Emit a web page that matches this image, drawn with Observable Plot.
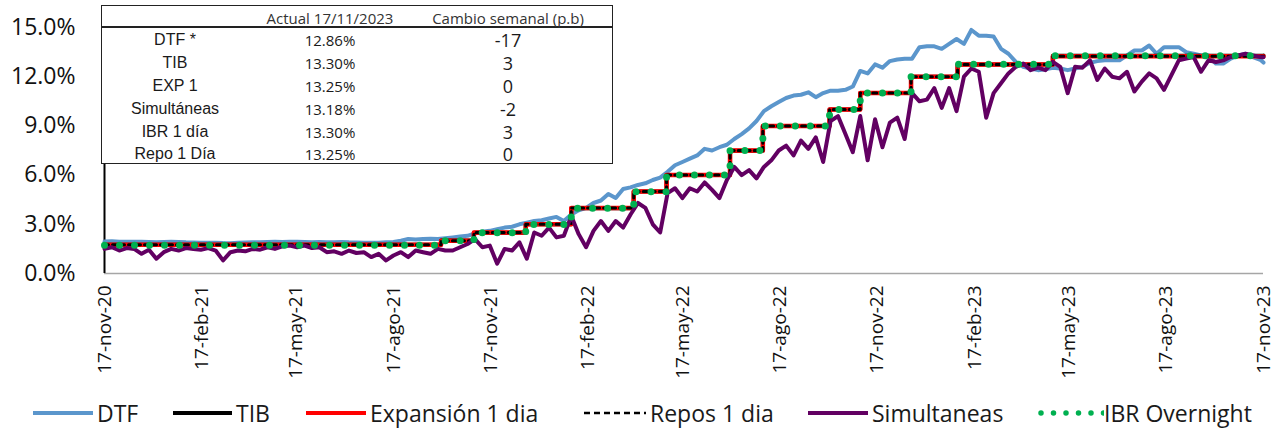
<!DOCTYPE html>
<html>
<head>
<meta charset="utf-8">
<script src="https://cdn.jsdelivr.net/npm/d3@7"></script>
<script src="https://cdn.jsdelivr.net/npm/@observablehq/plot@0.6"></script>
<style>
  html, body { margin: 0; padding: 0; background: #fff; }
  #wrap { position: relative; width: 1281px; height: 429px; overflow: hidden; font-family: "Open Sans", sans-serif; }
  #chart svg { display: block; }
  #tbl { position: absolute; left: 101px; top: 5px; width: 512px; height: 159px; border: 1.5px solid #222; background: #fff; box-sizing: border-box; }
  #tbl .hline { position: absolute; left: 0; right: 0; top: 20px; border-top: 2px solid #222; }
  #tbl .c { position: absolute; transform: translate(-50%, -50%); white-space: nowrap; color: #1a1a1a; }
  #tbl .hd { font-size: 15px; color: #333; }
  #tbl .lb { font-family: "Liberation Sans", Arial, sans-serif; font-size: 16px; }
  #tbl .va { font-size: 15px; }
  #tbl .ch { font-size: 18px; }
  #legend { position: relative; height: 31px; width: 1281px; }
  #legend .tx { position: absolute; top: 15px; transform: translateY(-50%); font-size: 23px; color: #1a1a1a; white-space: nowrap; }
  #legend svg { position: absolute; top: 10px; }
</style>
</head>
<body>
<div id="wrap">
  <div id="chart"></div>
  <div id="tbl"></div>
  <div id="legend"></div>
</div>
<script>
// ---------- DATA ----------
const startDate = "2020-11-17";
const endDate = "2023-11-17";

// Weekly DTF (%), from 17-nov-20, last value = 17-nov-23
const dtfValues = [
  1.95,1.96,1.94,1.93,1.94,1.93,1.92,1.91,1.92,1.93,
  1.92,1.90,1.89,1.88,1.87,1.88,1.86,1.85,1.87,1.89,
  1.90,1.91,1.92,1.93,1.92,1.94,1.93,1.92,1.91,1.92,
  1.90,1.91,1.92,1.90,1.89,1.88,1.87,1.88,1.90,1.92,
  2.00,2.10,2.08,2.10,2.12,2.10,2.15,2.20,2.25,2.30,
  2.45,2.55,2.60,2.70,2.80,2.85,3.00,3.10,3.20,3.25,
  3.35,3.45,3.20,3.60,3.85,4.00,4.30,4.45,4.85,4.60,
  5.15,5.25,5.40,5.50,5.70,5.85,6.20,6.60,6.80,7.00,
  7.20,7.60,7.50,7.70,7.85,8.20,8.50,8.85,9.30,9.90,
  10.20,10.45,10.70,10.85,10.90,11.05,10.75,11.00,11.15,11.15,
  11.20,11.40,12.35,12.20,12.75,12.55,12.95,13.05,13.10,13.10,
  13.80,13.85,13.85,13.70,14.00,14.30,14.00,14.85,14.50,14.50,
  14.45,13.70,13.40,12.90,12.60,12.50,12.40,12.45,12.55,12.50,
  12.40,12.50,12.60,12.85,12.95,13.00,13.00,13.00,13.30,13.60,
  13.60,13.90,13.40,13.80,13.80,13.80,13.50,13.40,13.30,13.30,
  12.80,12.80,13.10,13.30,13.40,13.20,13.03,
  12.86
];

// Weekly Simultáneas (%)
const simValues = [
  1.5,1.6,1.4,1.55,1.5,1.2,1.45,0.9,1.3,1.5,
  1.4,1.55,1.5,1.45,1.55,1.4,0.8,1.3,1.4,1.35,
  1.5,1.45,1.6,1.5,1.65,1.7,1.6,1.7,1.55,1.6,
  1.3,1.35,1.2,1.4,1.25,1.3,1.0,1.2,0.8,1.1,
  1.3,1.0,1.4,1.3,1.2,1.5,1.4,1.4,1.6,1.8,
  2.1,1.6,1.7,0.6,1.5,1.4,1.9,0.9,2.5,2.3,
  2.8,2.2,2.3,3.5,2.4,1.6,2.6,3.2,2.6,3.2,
  2.8,3.6,4.3,4.0,3.0,2.5,4.9,5.2,4.6,5.2,
  5.0,5.55,5.1,4.6,5.7,6.5,6.0,6.3,5.8,6.5,
  6.9,7.5,7.8,7.2,8.1,7.6,8.3,6.8,9.3,9.6,
  8.5,7.4,9.6,6.9,9.4,7.7,9.2,9.5,8.2,11.0,
  10.5,10.6,11.3,10.1,11.3,9.9,12.0,12.5,12.3,9.5,
  11.0,11.6,12.2,12.6,12.8,12.4,12.55,12.4,12.9,12.6,
  11.0,12.6,12.55,13.0,11.8,12.5,12.0,11.9,12.3,11.1,
  11.7,12.2,11.9,11.2,12.1,13.0,13.1,13.2,12.3,13.0,
  12.9,13.0,13.2,13.3,13.4,13.3,13.2,
  13.18
];

// Policy-linked overnight rates: change dates and levels (%)
const stepDates = ["2020-11-17","2021-10-01","2021-11-01","2021-12-20","2022-02-01","2022-04-01","2022-05-02","2022-07-01","2022-08-01","2022-10-03","2022-11-01","2022-12-19","2023-02-01","2023-05-02","2023-11-17"];
const tibValues  = [1.76,2.01,2.49,3.00,3.98,5.00,6.00,7.48,9.00,10.00,11.00,12.00,12.75,13.27,13.30];
const expValues  = [1.75,2.00,2.50,3.00,4.00,5.00,6.00,7.50,9.00,10.00,11.00,12.00,12.75,13.25,13.25];
const repoValues = [1.75,2.00,2.50,3.00,4.00,5.00,6.00,7.50,9.00,10.00,11.00,12.00,12.75,13.25,13.25];
const ibrValues  = [1.73,1.99,2.48,2.99,3.98,4.99,6.00,7.50,9.00,10.00,11.00,12.00,12.76,13.27,13.30];

const tickDates  = ["2020-11-17","2021-02-17","2021-05-17","2021-08-17","2021-11-17","2022-02-17","2022-05-17","2022-08-17","2022-11-17","2023-02-17","2023-05-17","2023-08-17","2023-11-17"];
const tickLabels = ["17-nov-20","17-feb-21","17-may-21","17-ago-21","17-nov-21","17-feb-22","17-may-22","17-ago-22","17-nov-22","17-feb-23","17-may-23","17-ago-23","17-nov-23"];
const yTicks = [0, 3, 6, 9, 12, 15];

const tableHeader = ["", "Actual 17/11/2023", "Cambio semanal (p.b)"];
const tableNames  = ["DTF *", "TIB", "EXP 1", "Simultáneas", "IBR 1 día", "Repo 1 Día"];
const tableActual = ["12.86%", "13.30%", "13.25%", "13.18%", "13.30%", "13.25%"];
const tableChange = ["-17", "3", "0", "-2", "3", "0"];

const seriesNames  = ["DTF", "TIB", "Expansión 1 dia", "Repos 1 dia", "Simultaneas", "IBR Overnight"];
const seriesColors = ["#5B96CC", "#000000", "#FF0000", "#000000", "#620062", "#00B050"];

// ---------- BUILD ----------
const start = new Date(startDate), end = new Date(endDate);
const weekly = vals => vals.map((v, i) => ({date: i === vals.length - 1 ? end : d3.utcDay.offset(start, 7 * i), v}));
const steps = vals => vals.map((v, i) => ({date: new Date(stepDates[i]), v}));
const dtf = weekly(dtfValues), sim = weekly(simValues);
const tib = steps(tibValues), exp = steps(expValues), repo = steps(repoValues), ibr = steps(ibrValues);
const tickD = tickDates.map(d => new Date(d));
const labelOf = new Map(tickD.map((d, i) => [+d, tickLabels[i]]));

const chart = Plot.plot({
  width: 1281,
  height: 398,
  marginLeft: 104,
  marginRight: 18,
  marginTop: 27,
  marginBottom: 125,
  style: {fontFamily: "'Open Sans', sans-serif", color: "#111", background: "#fff"},
  x: {type: "utc", domain: [start, end]},
  y: {domain: [0, 15]},
  marks: [
    Plot.axisY({ticks: yTicks, tickFormat: d => d.toFixed(1) + "%", tickSize: 0, tickPadding: 29, fontSize: 23, label: null}),
    Plot.axisX({ticks: tickD, tickFormat: d => labelOf.get(+d), tickRotate: -90, tickSize: 0, tickPadding: 12, fontSize: 19, label: null}),
    Plot.ruleY([0], {stroke: "#a6a6a6", strokeWidth: 1.5}),
    Plot.ruleX([start], {stroke: "#000", strokeWidth: 2}),
    Plot.line(dtf, {x: "date", y: "v", stroke: seriesColors[0], strokeWidth: 4}),
    Plot.line(tib, {x: "date", y: "v", stroke: seriesColors[1], strokeWidth: 4, curve: "step-after"}),
    Plot.line(exp, {x: "date", y: "v", stroke: seriesColors[2], strokeWidth: 4.5, curve: "step-after"}),
    Plot.line(repo, {x: "date", y: "v", stroke: seriesColors[3], strokeWidth: 3, strokeDasharray: "4,4", curve: "step-after"}),
    Plot.line(sim, {x: "date", y: "v", stroke: seriesColors[4], strokeWidth: 4, strokeLinejoin: "round"}),
    Plot.line(ibr, {x: "date", y: "v", stroke: seriesColors[5], strokeWidth: 7, strokeDasharray: "0,15", strokeLinecap: "round", curve: "step-after"})
  ]
});
document.getElementById("chart").appendChild(chart);

// ---------- TABLE ----------
const tbl = document.getElementById("tbl");
const colX = [73, 228, 406];
const rowY = [12, 34, 57, 80, 103, 126, 148];
function cell(txt, x, y, cls) {
  const d = document.createElement("div");
  d.className = "c " + cls;
  d.style.left = x + "px"; d.style.top = y + "px";
  d.textContent = txt;
  tbl.appendChild(d);
}
const hl = document.createElement("div"); hl.className = "hline"; tbl.appendChild(hl);
tableHeader.forEach((h, j) => { if (h) cell(h, colX[j], rowY[0], "hd"); });
tableNames.forEach((n, i) => {
  cell(n, colX[0], rowY[i + 1], "lb");
  cell(tableActual[i], colX[1], rowY[i + 1], "va");
  cell(tableChange[i], colX[2], rowY[i + 1], "ch");
});

// ---------- LEGEND ----------
const legend = document.getElementById("legend");
const legPos = [[33, 97], [173, 236], [306, 370], [584, 650], [808, 872], [1038, 1104]];
seriesNames.forEach((name, i) => {
  const [sx, tx] = legPos[i];
  const w = tx - sx - (i === 5 ? 0 : 4);
  const ns = "http://www.w3.org/2000/svg";
  const s = document.createElementNS(ns, "svg");
  s.setAttribute("width", w); s.setAttribute("height", 10);
  s.style.left = sx + "px";
  const l = document.createElementNS(ns, "line");
  l.setAttribute("x1", i === 5 ? 3 : 0); l.setAttribute("x2", w); l.setAttribute("y1", 5); l.setAttribute("y2", 5);
  l.setAttribute("stroke", seriesColors[i]);
  if (i === 3) { l.setAttribute("stroke-width", 2.5); l.setAttribute("stroke-dasharray", "6,4"); }
  else if (i === 5) { l.setAttribute("stroke-width", 5.5); l.setAttribute("stroke-dasharray", "0,12.5"); l.setAttribute("stroke-linecap", "round"); }
  else { l.setAttribute("stroke-width", 4); }
  s.appendChild(l);
  legend.appendChild(s);
  const t = document.createElement("div");
  t.className = "tx"; t.style.left = tx + "px"; t.textContent = name;
  legend.appendChild(t);
});
</script>
</body>
</html>
